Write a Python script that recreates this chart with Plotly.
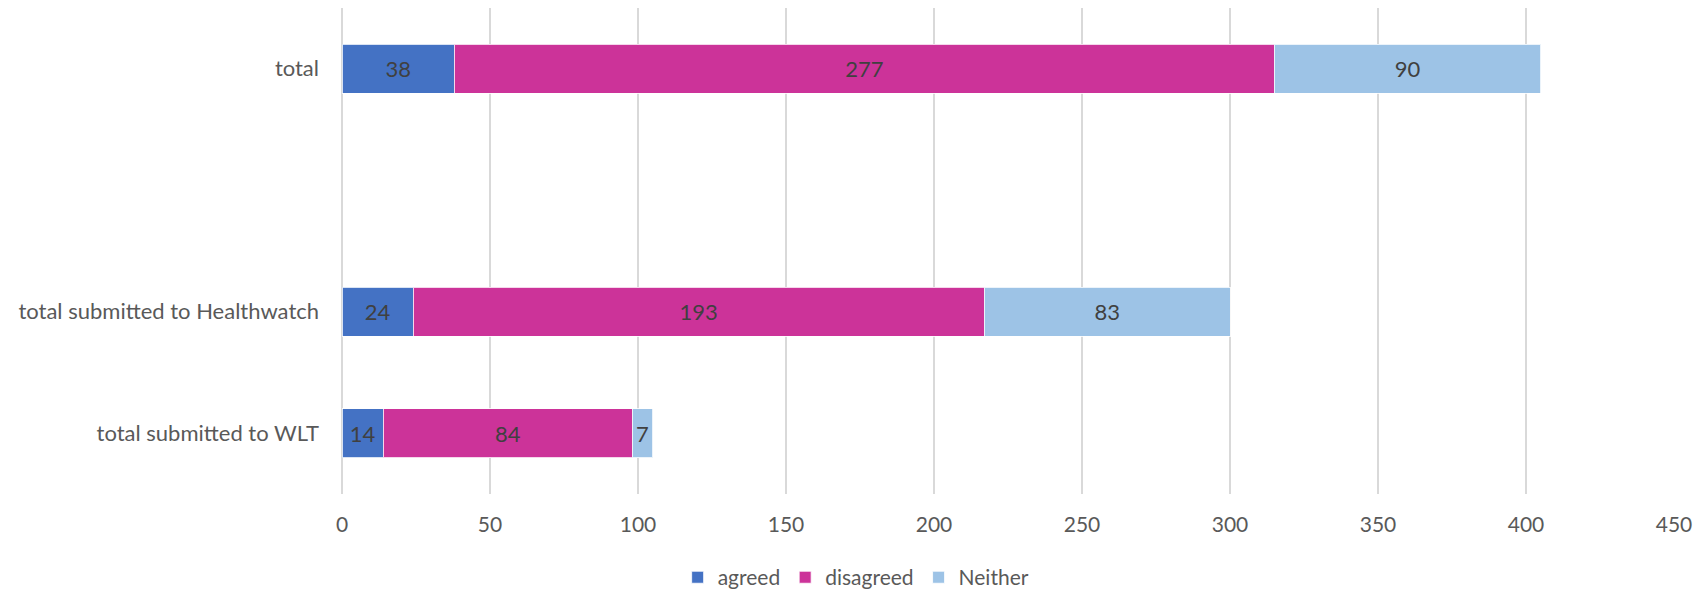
import plotly.graph_objects as go

# Survey responses by submission route (bottom-to-top order on the axis)
categories = ["total submitted to WLT", "total submitted to Healthwatch", " ", "total"]
agreed = [14, 24, None, 38]
disagreed = [84, 193, None, 277]
neither = [7, 83, None, 90]

x_ticks = [0, 50, 100, 150, 200, 250, 300, 350, 400, 450]

series = [
    ("agreed", agreed, "#4472C4"),
    ("disagreed", disagreed, "#CC3399"),
    ("Neither", neither, "#9DC3E6"),
]

FONT = "Lato"
TEXT_COLOR = "#595959"

fig = go.Figure()
for name, values, color in series:
    fig.add_trace(go.Bar(
        y=categories,
        x=values,
        name=name,
        orientation="h",
        marker=dict(color=color, line=dict(color="rgba(255,255,255,0.8)", width=1)),
        width=0.4,
        text=[("" if v is None else str(v)) for v in values],
        textposition="inside",
        insidetextanchor="middle",
        textangle=0,
        textfont=dict(family=FONT, size=22, color="#404040"),
        constraintext="none",
        cliponaxis=False,
    ))

fig.update_layout(
    barmode="stack",
    width=1694,
    height=591,
    margin=dict(l=342, r=20, t=8, b=97, autoexpand=False),
    paper_bgcolor="white",
    plot_bgcolor="white",
    font=dict(family=FONT, size=22, color=TEXT_COLOR),
    showlegend=True,
    legend=dict(
        orientation="h",
        x=0.386,
        xanchor="center",
        y=-0.172,
        yanchor="middle",
        font=dict(family=FONT, size=21, color=TEXT_COLOR),
        itemwidth=30,
        tracegroupgap=0,
        traceorder="normal",
    ),
    uniformtext=dict(mode=False),
)

fig.update_xaxes(
    range=[0, 450],
    tickvals=x_ticks,
    showgrid=True,
    gridcolor="#D9D9D9",
    gridwidth=1.5,
    zeroline=True,
    zerolinecolor="#D9D9D9",
    zerolinewidth=1.5,
    showline=False,
    ticks="",
    ticklabelstandoff=16,
    tickfont=dict(family=FONT, size=21, color=TEXT_COLOR),
)

fig.update_yaxes(
    type="category",
    categoryorder="array",
    categoryarray=categories,
    range=[-0.5, 3.5],
    showgrid=False,
    showline=False,
    ticks="",
    ticklabelstandoff=22,
    tickfont=dict(family=FONT, size=22, color=TEXT_COLOR),
)

fig.write_html("out.html")
